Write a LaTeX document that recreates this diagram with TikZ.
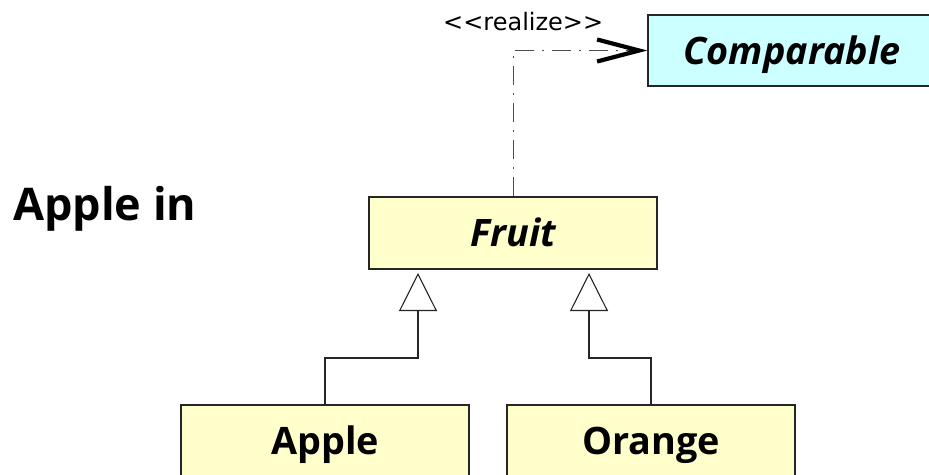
\documentclass[tikz,border=0pt]{standalone}
\usepackage{fontspec}
\newfontfamily\osans{Open Sans}
\newfontfamily\dvsans{DejaVu Sans}
\usetikzlibrary{arrows.meta,calc}
\definecolor{clsyellow}{HTML}{FFFFCC}
\definecolor{clscyan}{HTML}{CCFFFF}
\begin{document}
\begin{tikzpicture}[x=1pt,y=-1pt,
  cls/.style={draw=black!85, line width=1.2pt, minimum width=288pt, minimum height=72pt,
    inner sep=0pt, text height=27pt, text depth=0pt,
    font=\osans\bfseries\fontsize{37.8}{40}\selectfont},
  gen/.style={line width=1.1pt, draw=black!85,
    -{Triangle[open, length=38pt, width=38pt, fill=white]}},
  realize/.style={line width=1pt, draw=black!70,
    dash pattern=on 19pt off 8pt on 2pt off 8pt,
    -{Straight Barb[length=42pt, width=22pt, line width=4.2pt, color=black]}}]
\clip (0,0) rectangle (929,474);
\fill[white] (0,0) rectangle (929,474);

\node[cls, fill=clsyellow] (fruit) at (513,233) {\itshape Fruit};
\node[cls, fill=clsyellow] (apple) at (325,441) {Apple};
\node[cls, fill=clsyellow] (orange) at (651,441) {Orange};
\node[cls, fill=clscyan, minimum height=71pt] (cmp) at (792,50.5) {\itshape Comparable};

\node[anchor=base west, inner sep=0pt, font=\osans\bfseries\fontsize{45}{48}\selectfont]
  (title) at (13,220) {Apple in};
\node[anchor=base west, inner sep=0pt, font=\dvsans\fontsize{24}{26}\selectfont]
  (rl) at (443,30) {\textless\textless realize\textgreater\textgreater};

\coordinate (ta) at (418,273);
\coordinate (tb) at (589,273);

\draw[gen] (apple.north) -- (apple.north |- 0,358) -| (ta);
\draw[gen] (orange.north) -- (orange.north |- 0,358) -| (tb);
\draw[realize] (fruit.north) |- (cmp.west);
\end{tikzpicture}
\end{document}
